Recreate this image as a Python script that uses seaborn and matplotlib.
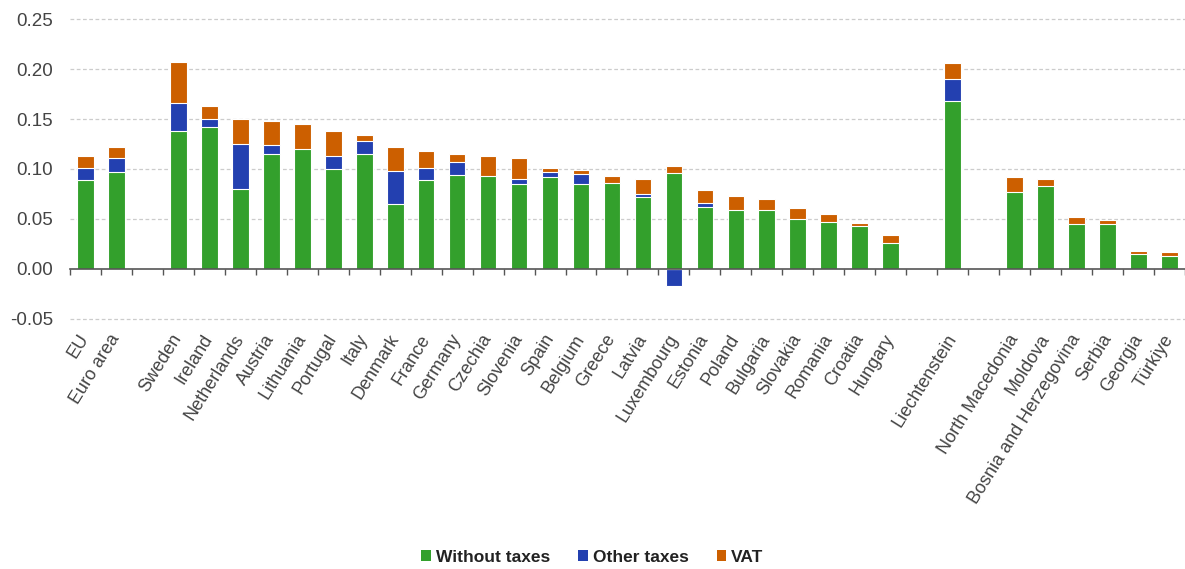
import numpy as np
import pandas as pd
import matplotlib
matplotlib.use("Agg")
import matplotlib.pyplot as plt
from matplotlib.patches import Patch
import seaborn as sns

# ---- data ----
slots = ["EU", "Euro area", " ",
         "Sweden", "Ireland", "Netherlands", "Austria", "Lithuania", "Portugal", "Italy",
         "Denmark", "France", "Germany", "Czechia", "Slovenia", "Spain", "Belgium", "Greece",
         "Latvia", "Luxembourg", "Estonia", "Poland", "Bulgaria", "Slovakia", "Romania",
         "Croatia", "Hungary", "  ",
         "Liechtenstein", "   ",
         "North Macedonia", "Moldova", "Bosnia and Herzegovina", "Serbia", "Georgia", "Türkiye"]

countries = [s for s in slots if s.strip()]

without_taxes = [0.089, 0.097, 0.138, 0.142, 0.080, 0.115, 0.120, 0.100, 0.115, 0.065,
                 0.089, 0.094, 0.093, 0.085, 0.092, 0.085, 0.086, 0.072, 0.096, 0.062,
                 0.059, 0.059, 0.050, 0.047, 0.043, 0.026, 0.168, 0.077, 0.083, 0.045,
                 0.045, 0.015, 0.013]
other_taxes = [0.012, 0.014, 0.028, 0.008, 0.045, 0.009, 0.000, 0.013, 0.013, 0.033,
               0.012, 0.013, 0.000, 0.005, 0.005, 0.010, 0.000, 0.003, -0.017, 0.004,
               0.000, 0.000, 0.000, 0.000, 0.000, 0.000, 0.022, 0.000, 0.000, 0.000,
               0.000, 0.000, 0.000]
vat = [0.012, 0.011, 0.041, 0.013, 0.025, 0.024, 0.025, 0.025, 0.006, 0.024,
       0.017, 0.008, 0.020, 0.021, 0.004, 0.004, 0.007, 0.015, 0.007, 0.013,
       0.014, 0.011, 0.011, 0.008, 0.003, 0.008, 0.016, 0.015, 0.007, 0.007,
       0.004, 0.003, 0.004]

series_names = ["Without taxes", "Other taxes", "VAT"]
colors = ["#33a02c", "#2340b0", "#cc5f00"]
yticks = [-0.05, 0.00, 0.05, 0.10, 0.15, 0.20, 0.25]

df = pd.DataFrame({"country": countries, "without": without_taxes,
                   "other": other_taxes, "vat": vat})
pos_other = df["other"].clip(lower=0)
df["l_vat"] = df["without"] + pos_other + df["vat"]
df["l_other"] = np.where(df["other"] > 0, df["without"] + df["other"], df["other"])
df["l_without"] = df["without"]

# ---- plot ----
sns.set_style("white")
plt.rcParams["font.family"] = ["Liberation Sans", "DejaVu Sans"]

fig = plt.figure(figsize=(11.85, 5.69), dpi=100)
ax = fig.add_axes([0.059, 0.422, 0.941, 0.548])

bw = 0.54
for col, c in zip(["l_vat", "l_other", "l_without"], [colors[2], colors[1], colors[0]]):
    sns.barplot(data=df, x="country", y=col, order=slots, color=c, width=bw,
                errorbar=None, edgecolor="white", linewidth=0.8, saturation=1, ax=ax)

ymin, ymax = -0.06, 0.252
ax.set_ylim(ymin, ymax)
ax.set_xlim(-0.5, len(slots) - 0.5)
ax.set_yticks(yticks)
ax.set_yticklabels([f"{v:.2f}" for v in yticks])
ax.set_xlabel("")
ax.set_ylabel("")
for s in ax.spines.values():
    s.set_visible(False)
ax.yaxis.grid(True, color="#cccccc", linestyle=(0, (3, 2)), linewidth=0.9)
ax.set_axisbelow(True)
for v, gl in zip(yticks, ax.yaxis.get_gridlines()):
    if abs(v) < 1e-9:
        gl.set_visible(False)
ax.tick_params(axis="y", length=0, labelsize=13.5, labelcolor="#444444", pad=12)
ax.tick_params(axis="x", length=0, labelsize=13, labelcolor="#444444", pad=5)
ax.set_xticks(range(len(slots)))
ax.set_xticklabels(slots)
for lab in ax.get_xticklabels():
    lab.set_rotation(58)
    lab.set_ha("right")
    lab.set_va("center")
    lab.set_rotation_mode("anchor")

# zero axis line with slot-boundary ticks
frac = (0 - ymin) / (ymax - ymin)
sec = ax.secondary_xaxis(frac)
sec.set_zorder(5)
sec.set_xticks(np.arange(-0.5, len(slots), 1.0))
sec.tick_params(axis="x", direction="out", length=4, width=1, color="#555555",
                labelbottom=False, labeltop=False)
for s in sec.spines.values():
    s.set_color("#555555")
    s.set_linewidth(1.2)

handles = [Patch(facecolor=c, edgecolor="none", label=n) for n, c in zip(series_names, colors)]
leg = fig.legend(handles=handles, loc="center", bbox_to_anchor=(0.5, 0.021), ncol=3,
                 frameon=False, handlelength=0.55, handleheight=0.55, handletextpad=0.3,
                 columnspacing=1.6, prop={"weight": "bold", "size": 12.5})
for t in leg.get_texts():
    t.set_color("#222222")

fig.savefig("out.png", dpi=100)
